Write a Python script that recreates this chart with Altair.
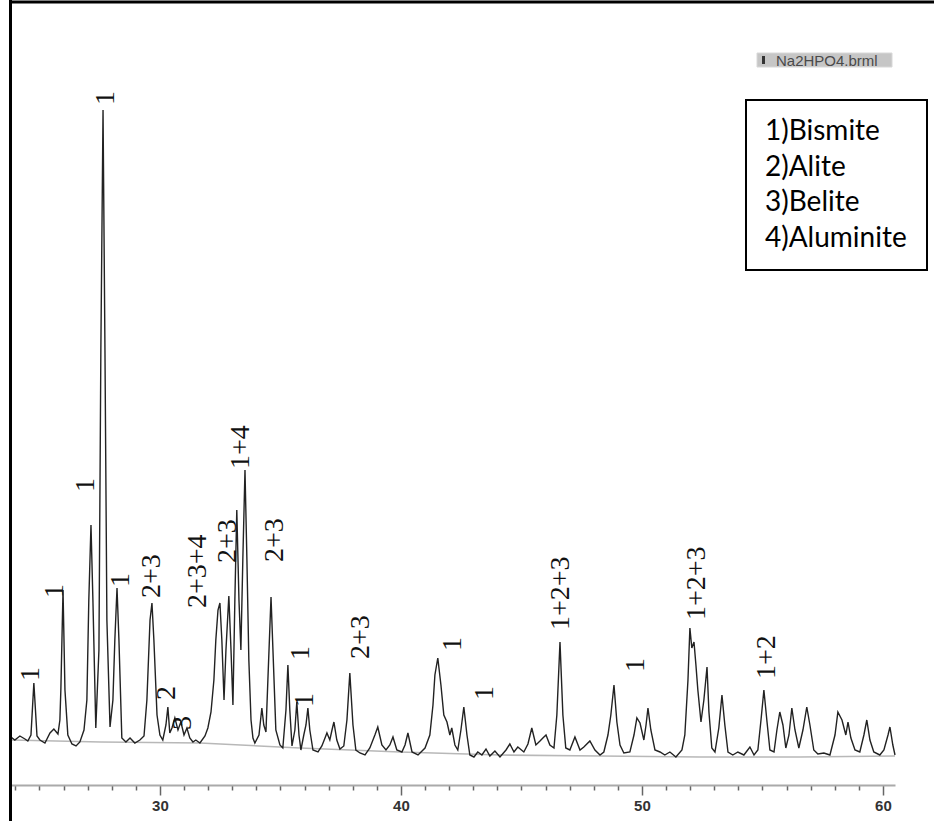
import altair as alt
import pandas as pd

# ---- XRD profile (2-theta in degrees, intensity in arbitrary counts) ----
two_theta = [
    23.82, 23.98, 24.19, 24.40, 24.52, 24.65, 24.77, 24.90, 25.02, 25.23, 25.44, 25.60, 25.77, 25.85,
    25.89, 25.98, 26.06, 26.18, 26.35, 26.52, 26.68, 26.85, 26.97, 27.05, 27.14, 27.22, 27.34, 27.47,
    27.55, 27.64, 27.72, 27.80, 27.93, 28.05, 28.13, 28.22, 28.30, 28.42, 28.59, 28.76, 28.96, 29.17,
    29.34, 29.46, 29.59, 29.67, 29.75, 29.88, 30.00, 30.12, 30.25, 30.33, 30.41, 30.50, 30.62, 30.75,
    30.87, 31.00, 31.12, 31.24, 31.37, 31.49, 31.66, 31.87, 31.99, 32.12, 32.24, 32.32, 32.41, 32.49,
    32.57, 32.66, 32.74, 32.86, 32.95, 33.03, 33.11, 33.19, 33.28, 33.36, 33.44, 33.53, 33.61, 33.69,
    33.78, 33.86, 33.94, 34.11, 34.23, 34.31, 34.40, 34.48, 34.61, 34.69, 34.81, 34.98, 35.10, 35.23,
    35.31, 35.39, 35.48, 35.60, 35.68, 35.77, 35.85, 35.97, 36.06, 36.14, 36.22, 36.35, 36.56, 36.72,
    36.85, 36.93, 37.05, 37.14, 37.22, 37.34, 37.47, 37.63, 37.76, 37.88, 38.01, 38.13, 38.30, 38.51,
    38.71, 38.92, 39.04, 39.21, 39.38, 39.54, 39.67, 39.83, 40.04, 40.17, 40.29, 40.46, 40.71, 41.00,
    41.20, 41.33, 41.41, 41.53, 41.66, 41.78, 41.91, 42.03, 42.11, 42.24, 42.36, 42.49, 42.61, 42.74,
    42.86, 43.03, 43.19, 43.36, 43.53, 43.69, 43.90, 44.11, 44.36, 44.52, 44.69, 44.85, 45.10, 45.27,
    45.43, 45.60, 45.77, 45.89, 46.02, 46.18, 46.35, 46.47, 46.60, 46.72, 46.84, 47.01, 47.22, 47.43,
    47.59, 47.84, 48.05, 48.26, 48.42, 48.59, 48.71, 48.84, 48.96, 49.09, 49.25, 49.50, 49.67, 49.79,
    49.92, 50.08, 50.17, 50.25, 50.37, 50.54, 50.75, 50.95, 51.16, 51.41, 51.66, 51.78, 51.91, 51.99,
    52.07, 52.16, 52.24, 52.32, 52.45, 52.57, 52.70, 52.78, 52.90, 53.03, 53.19, 53.32, 53.44, 53.57,
    53.77, 53.98, 54.23, 54.48, 54.65, 54.81, 54.94, 55.06, 55.19, 55.31, 55.48, 55.60, 55.72, 55.85,
    55.97, 56.10, 56.22, 56.35, 56.51, 56.68, 56.84, 56.97, 57.13, 57.30, 57.55, 57.80, 58.01, 58.13,
    58.30, 58.46, 58.55, 58.67, 58.84, 59.04, 59.21, 59.33, 59.46, 59.62, 59.87, 60.04, 60.21, 60.29,
    60.41, 60.50,
]
intensity = [
    48, 45, 49, 46, 44, 50, 102, 49, 45, 42, 52, 56, 51, 65,
    95, 195, 95, 50, 41, 39, 43, 55, 85, 185, 260, 185, 57, 135,
    435, 675, 435, 165, 58, 85, 145, 197, 145, 47, 43, 47, 42, 45,
    49, 85, 165, 182, 145, 70, 50, 45, 60, 78, 52, 57, 67, 55,
    63, 50, 57, 47, 43, 45, 42, 49, 57, 73, 105, 145, 175, 182,
    145, 85, 135, 189, 135, 80, 185, 275, 185, 135, 225, 315, 225, 125,
    65, 47, 42, 50, 77, 60, 53, 105, 188, 135, 55, 40, 37, 75,
    120, 75, 39, 55, 83, 50, 35, 50, 60, 77, 55, 35, 33, 39,
    47, 52, 45, 55, 63, 45, 36, 39, 65, 112, 60, 35, 32, 30,
    37, 50, 58, 40, 35, 40, 48, 35, 33, 40, 52, 33, 30, 37,
    50, 80, 110, 127, 100, 70, 63, 50, 57, 40, 35, 55, 78, 50,
    30, 28, 33, 30, 36, 29, 34, 28, 35, 41, 33, 38, 33, 41,
    57, 40, 44, 47, 50, 40, 37, 70, 143, 70, 37, 35, 48, 35,
    38, 44, 35, 30, 33, 50, 70, 100, 63, 40, 32, 33, 50, 67,
    62, 45, 60, 77, 55, 35, 33, 30, 33, 28, 35, 50, 105, 157,
    137, 143, 120, 95, 63, 85, 118, 73, 37, 33, 57, 90, 60, 33,
    30, 33, 30, 38, 30, 35, 65, 95, 63, 35, 33, 55, 73, 60,
    37, 50, 77, 55, 37, 55, 78, 60, 35, 31, 32, 30, 50, 73,
    65, 50, 63, 47, 35, 33, 50, 65, 45, 33, 30, 35, 50, 58,
    40, 30,
]

# background (fitted baseline) curve
bg_two_theta = [23.82, 27.55, 31.66, 35.81, 39.96, 44.11, 48.26, 52.41, 56.56, 60.50]
bg_intensity = [45, 43, 42, 37, 33, 30, 29, 28, 28, 29]

# phase labels above the peaks
peak_labels = ["1", "1", "1", "1", "1", "2+3", "2", "3", "2+3+4", "2+3", "1+4", "2+3",
               "1", "1", "2+3", "1", "1", "1+2+3", "1", "1+2+3", "1+2"]
label_two_theta = [24.65, 25.64, 26.93, 27.76, 28.38, 29.67, 30.29, 30.95, 31.58, 32.82, 33.36, 34.77,
                   35.85, 36.02, 38.34, 42.16, 43.48, 46.64, 49.75, 52.28, 55.19]
label_intensity = [104, 187, 293, 680, 198, 187, 85, 55, 177, 222, 316, 223,
                   125, 78, 126, 134, 85, 155, 113, 165, 106]

tick_values = list(range(24, 61))
legend_lines = ["1)Bismite", "2)Alite", "3)Belite", "4)Aluminite"]
sample_name = "Na2HPO4.brml"

# ---- chart ----
W, H = 885, 785
xscale = alt.Scale(domain=[23.78, 60.5], nice=False, zero=False)
yscale = alt.Scale(domain=[0, 785], nice=False, zero=False)
x_axis = alt.Axis(
    values=tick_values,
    labelExpr="datum.value % 10 === 0 ? datum.label : ''",
    tickSize={"condition": {"test": "datum.value % 10 === 0", "value": 10}, "value": 5},
    tickColor="#666666", tickWidth=1.5,
    domainColor="#aaaaaa", domainWidth=2,
    labelFont="Liberation Sans", labelFontSize=15, labelFontWeight="bold",
    labelColor="#333333", labelPadding=3, labelOverlap=False, labelFlush=False,
    title=None, grid=False,
)

profile_df = pd.DataFrame({"two_theta": two_theta, "intensity": intensity})
bg_df = pd.DataFrame({"two_theta": bg_two_theta, "intensity": bg_intensity})
labels_df = pd.DataFrame({"label": peak_labels, "two_theta": label_two_theta,
                          "intensity": label_intensity})

X = alt.X("two_theta:Q", scale=xscale, axis=x_axis)
Y = alt.Y("intensity:Q", scale=yscale, axis=None)

bg_line = alt.Chart(bg_df).mark_line(color="#b8b8b8", strokeWidth=1.6).encode(x=X, y=Y)
profile = alt.Chart(profile_df).mark_line(color="#222222", strokeWidth=1.4).encode(x=X, y=Y)
labels = alt.Chart(labels_df).mark_text(
    angle=270, align="left", baseline="middle",
    font="'Liberation Serif', 'Times New Roman', 'DejaVu Serif', serif",
    fontSize=28, color="#111111"
).encode(x=X, y=Y, text="label:N")

one = pd.DataFrame({"k": [0]})
frame_left = alt.Chart(one).mark_rule(color="black", strokeWidth=3).encode(
    x=alt.value(0.5), y=alt.value(0), y2=alt.value(821))
frame_top = alt.Chart(one).mark_rule(color="black", strokeWidth=3).encode(
    x=alt.value(0), x2=alt.value(924), y=alt.value(2))

legend_box = alt.Chart(one).mark_rect(fill="white", stroke="black", strokeWidth=2).encode(
    x=alt.value(736), x2=alt.value(917), y=alt.value(100), y2=alt.value(270))
legend_texts = [
    alt.Chart(one).mark_text(text=t, align="left", baseline="middle", font="Lato",
                             fontSize=28, color="black").encode(
        x=alt.value(755), y=alt.value(132 + i * 35.5))
    for i, t in enumerate(legend_lines)
]

name_box = alt.Chart(one).mark_rect(fill="#c6c6c6", stroke="#d8d8d8", strokeWidth=1).encode(
    x=alt.value(747), x2=alt.value(882), y=alt.value(53), y2=alt.value(67))
name_mark = alt.Chart(one).mark_rect(fill="#333333").encode(
    x=alt.value(752), x2=alt.value(755), y=alt.value(56), y2=alt.value(64))
name_text = alt.Chart(one).mark_text(text=sample_name, align="left", baseline="middle",
                                     font="Liberation Sans", fontSize=15, color="#4a4a4a").encode(
    x=alt.value(766), y=alt.value(60.5))

chart = alt.layer(
    bg_line, profile, labels, frame_left, frame_top, legend_box, *legend_texts,
    name_box, name_mark, name_text,
).properties(
    width=W, height=H,
    autosize=alt.AutoSizeParams(type="none"),
    padding={"left": 10, "top": 0, "right": 39, "bottom": 36},
    background="white",
).configure_view(stroke="transparent")

chart.save("out.html", embed_options={"renderer": "svg", "actions": False})
